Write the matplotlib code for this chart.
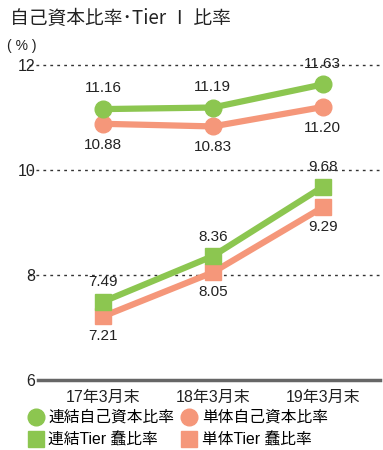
import matplotlib
matplotlib.use("Agg")
import matplotlib.pyplot as plt
from matplotlib.lines import Line2D

plt.rcParams['font.family'] = ['Liberation Sans', 'Noto Sans CJK JP', 'DejaVu Sans']

categories = ["17年3月末", "18年3月末", "19年3月末"]
consol_car = [11.16, 11.19, 11.63]
single_car = [10.88, 10.83, 11.20]
consol_tier1 = [7.49, 8.36, 9.68]
single_tier1 = [7.21, 8.05, 9.29]
series_names = ["連結自己資本比率", "単体自己資本比率", "連結Tier 蠢比率", "単体Tier 蠢比率"]
yticks = [6, 8, 10, 12]

GREEN = "#8CC650"
SALMON = "#F5977A"
TXT = "#222222"

W, H = 383, 450
fig = plt.figure(figsize=(W / 100, H / 100), dpi=100)
ax = fig.add_axes([38 / W, (H - 380) / H, (380 - 38) / W, (380 - 65) / H])

x = list(range(len(categories)))
ax.set_xlim(-0.59, 2.52)
ax.set_ylim(6, 12)

for yv in yticks[1:]:
    ax.axhline(yv, xmin=-0.025, xmax=1.01, color="#333333", lw=1.0, ls=(0, (2, 3)),
               zorder=1, clip_on=False)

lw = 4.5
ax.plot(x, consol_car, color=GREEN, lw=lw, marker="o", ms=12, zorder=4)
ax.plot(x, single_car, color=SALMON, lw=lw, marker="o", ms=12, zorder=3)
ax.plot(x, consol_tier1, color=GREEN, lw=lw, marker="s", ms=11, zorder=4)
ax.plot(x, single_tier1, color=SALMON, lw=lw, marker="s", ms=11, zorder=3)

fs = 11
for xi, v in zip(x, consol_car):
    ax.annotate(f"{v:.2f}", (xi, v), xytext=(0, 10), textcoords="offset points",
                ha="center", va="bottom", fontsize=fs, color=TXT)
for xi, v in zip(x, single_car):
    ax.annotate(f"{v:.2f}", (xi, v), xytext=(0, -10), textcoords="offset points",
                ha="center", va="top", fontsize=fs, color=TXT)
for xi, v in zip(x, consol_tier1):
    ax.annotate(f"{v:.2f}", (xi, v), xytext=(0, 9), textcoords="offset points",
                ha="center", va="bottom", fontsize=fs, color=TXT)
for xi, v in zip(x, single_tier1):
    ax.annotate(f"{v:.2f}", (xi, v), xytext=(0, -9), textcoords="offset points",
                ha="center", va="top", fontsize=fs, color=TXT)

for s in ["top", "right", "left"]:
    ax.spines[s].set_visible(False)
ax.spines["bottom"].set_color("#666666")
ax.spines["bottom"].set_linewidth(2.5)
ax.set_xticks(x)
ax.set_xticklabels(categories, fontsize=11.5, color=TXT)
ax.set_yticks(yticks)
ax.set_yticklabels([str(t) for t in yticks], fontsize=11.5, color=TXT)
ax.tick_params(axis="both", length=0)
ax.tick_params(axis="y", pad=2)
ax.tick_params(axis="x", pad=7)

fig.text(10 / W, 1 - 18 / H, "自己資本比率･Tier Ⅰ 比率", fontsize=13.5, color=TXT,
         va="center", ha="left", family=['Noto Sans CJK JP', 'DejaVu Sans'])
fig.text(7 / W, 1 - 46 / H, "( % )", fontsize=10, color=TXT, va="center", ha="left")

handles = [
    Line2D([], [], ls="none", marker="o", ms=12, color=GREEN),
    Line2D([], [], ls="none", marker="s", ms=12, color=GREEN),
    Line2D([], [], ls="none", marker="o", ms=12, color=SALMON),
    Line2D([], [], ls="none", marker="s", ms=12, color=SALMON),
]
labels = [series_names[0], series_names[2], series_names[1], series_names[3]]
fig.legend(handles, labels, ncol=2, loc="upper left", bbox_to_anchor=(28 / W, 1 - 410 / H),
           frameon=False, fontsize=11.3, handlelength=1.0, handletextpad=0.3,
           columnspacing=0.45, labelspacing=0.45, borderaxespad=0, borderpad=0)

fig.savefig("out.png", dpi=100)
